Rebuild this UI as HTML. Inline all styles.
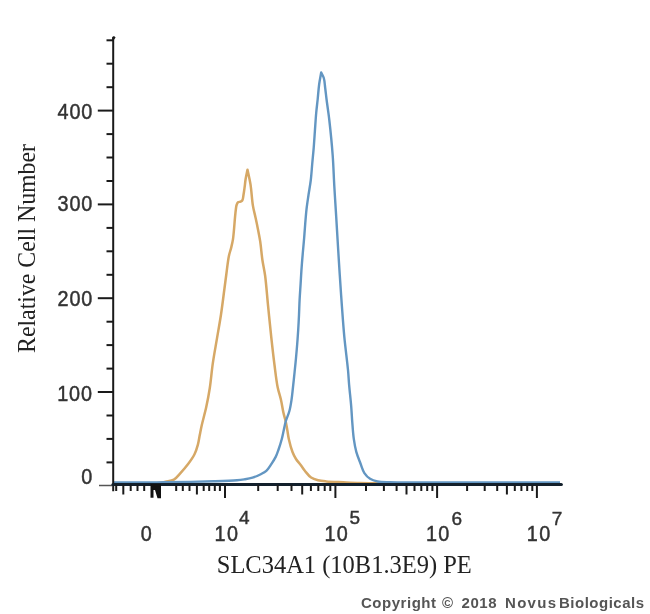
<!DOCTYPE html>
<html><head><meta charset="utf-8"><style>
html,body{margin:0;padding:0;background:#fff;}
svg{display:block;filter:blur(0.4px);}
.sans{font-family:"Liberation Sans",sans-serif;}
.serif{font-family:"Liberation Serif",serif;}
</style></head><body>
<svg width="650" height="614" viewBox="0 0 650 614">
<rect width="650" height="614" fill="#fff"/>
<path d="M114.00,483.20 C126.00,483.20 141.72,483.24 150.00,483.20 C154.37,483.18 157.18,483.44 160.00,483.10 C162.12,482.84 163.48,482.29 165.50,481.80 C168.01,481.19 171.50,481.05 173.90,479.70 C176.25,478.38 177.72,476.14 179.80,473.90 C182.39,471.11 185.61,467.45 188.10,464.10 C190.48,460.91 192.84,457.66 194.50,454.30 C196.05,451.15 197.01,447.87 197.90,444.60 C198.77,441.37 199.15,438.07 199.80,434.80 C200.45,431.53 200.95,428.76 201.80,425.00 C202.96,419.85 204.97,412.94 206.30,406.80 C207.64,400.60 208.77,394.70 209.80,388.00 C210.97,380.37 211.62,371.58 212.80,363.40 C213.98,355.21 215.53,347.06 216.90,338.90 C218.27,330.76 219.76,322.73 221.00,314.50 C222.26,306.10 223.43,296.31 224.40,289.00 C225.13,283.49 225.60,279.63 226.30,274.50 C227.09,268.71 227.88,260.94 228.90,256.00 C229.60,252.63 230.52,250.42 231.20,247.60 C231.88,244.78 232.46,242.64 233.00,239.10 C233.87,233.36 234.55,221.79 235.10,216.30 C235.41,213.19 235.61,211.07 235.90,209.00 C236.12,207.46 236.20,206.18 236.60,205.00 C236.94,203.98 237.31,202.86 238.00,202.30 C238.64,201.78 239.75,201.96 240.50,201.60 C241.21,201.25 241.93,200.93 242.40,200.20 C243.07,199.16 243.08,197.28 243.40,195.50 C243.82,193.17 244.23,190.10 244.60,187.40 C244.97,184.70 245.15,182.10 245.60,179.30 C246.09,176.25 246.87,172.97 247.50,169.80 C248.50,174.67 249.65,179.06 250.50,184.40 C251.52,190.79 251.91,199.64 252.90,205.60 C253.63,210.01 254.58,213.20 255.40,217.00 C256.22,220.80 257.02,224.47 257.80,228.40 C258.63,232.59 259.48,236.67 260.20,241.40 C261.05,247.03 261.54,254.09 262.40,260.00 C263.19,265.41 264.28,269.45 265.10,275.50 C266.25,283.96 267.08,295.91 268.10,306.10 C269.12,316.28 270.11,326.62 271.20,336.60 C272.25,346.24 273.36,356.14 274.50,365.00 C275.50,372.81 276.33,380.66 277.60,387.00 C278.59,391.93 280.01,395.65 281.00,400.00 C281.98,404.32 282.63,409.14 283.50,413.00 C284.21,416.15 285.07,418.66 285.70,421.50 C286.33,424.32 286.79,427.12 287.30,430.00 C287.82,432.95 288.07,435.75 288.80,439.00 C289.69,442.96 291.10,448.39 292.50,452.00 C293.57,454.75 294.62,456.82 296.00,459.00 C297.36,461.15 299.19,462.98 300.70,465.00 C302.19,466.98 303.37,469.01 305.00,471.00 C306.79,473.18 308.81,475.95 311.10,477.50 C313.19,478.91 315.56,479.55 318.00,480.20 C320.58,480.88 322.96,481.08 326.20,481.40 C330.87,481.86 337.72,482.03 343.40,482.30 C348.98,482.56 354.21,482.83 360.00,483.00 C366.36,483.18 373.33,483.20 380.00,483.30" fill="none" stroke="#d6a866" stroke-width="2.5" stroke-linejoin="round"/>
<path d="M114.00,482.50 C126.00,482.50 140.59,482.56 150.00,482.50 C156.08,482.46 158.57,482.41 165.00,482.30 C176.60,482.10 200.52,481.72 213.80,481.30 C222.96,481.01 231.47,480.76 237.00,480.30 C240.09,480.04 241.72,479.81 244.20,479.40 C246.88,478.96 249.77,478.54 252.50,477.70 C255.31,476.83 258.36,475.46 260.80,474.20 C262.87,473.13 264.62,472.34 266.30,470.80 C268.25,469.01 269.91,466.16 271.50,463.80 C273.03,461.53 274.54,459.25 275.70,456.90 C276.82,454.65 277.50,452.59 278.40,450.00 C279.53,446.78 280.87,442.50 281.80,439.00 C282.63,435.87 283.14,432.96 283.80,430.00 C284.44,427.13 284.85,424.46 285.70,421.50 C286.66,418.16 288.43,414.58 289.40,411.00 C290.37,407.41 290.92,403.76 291.50,400.00 C292.10,396.10 292.42,392.29 292.90,388.00 C293.45,383.05 294.07,377.16 294.60,372.00 C295.10,367.18 295.57,362.67 296.00,358.00 C296.43,353.33 296.83,348.67 297.20,344.00 C297.57,339.33 297.90,334.75 298.20,330.00 C298.51,325.09 298.77,320.00 299.00,315.00 C299.23,310.00 299.34,305.08 299.60,300.00 C299.87,294.75 300.27,289.35 300.60,284.00 C300.93,278.62 301.22,273.08 301.60,267.80 C301.96,262.75 302.38,257.91 302.80,253.00 C303.21,248.14 303.70,243.33 304.10,238.50 C304.50,233.67 304.80,228.85 305.20,224.00 C305.60,219.12 305.95,214.16 306.50,209.30 C307.05,204.49 307.79,199.82 308.50,195.00 C309.22,190.06 310.18,185.17 310.80,180.00 C311.46,174.52 311.80,168.51 312.30,163.00 C312.77,157.79 313.28,153.00 313.70,147.80 C314.15,142.34 314.49,136.70 314.90,131.00 C315.32,125.10 315.70,118.62 316.20,113.00 C316.65,108.04 317.21,103.75 317.70,99.00 C318.21,94.09 318.56,88.66 319.20,84.00 C319.76,79.90 320.53,76.33 321.20,72.50 C322.07,74.33 323.15,75.84 323.80,78.00 C324.63,80.79 324.76,84.58 325.20,88.00 C325.66,91.58 326.03,95.34 326.50,99.00 C326.97,102.67 327.52,106.42 328.00,110.00 C328.45,113.41 328.81,115.64 329.30,120.00 C330.23,128.20 331.86,144.11 332.70,155.50 C333.48,166.04 333.72,175.83 334.30,186.00 C334.88,196.19 335.56,206.18 336.20,216.60 C336.86,227.49 337.56,239.62 338.20,250.00 C338.76,259.07 339.22,266.61 339.80,275.50 C340.44,285.24 341.15,295.91 341.90,306.10 C342.65,316.28 343.32,326.21 344.30,336.60 C345.33,347.49 347.17,361.13 348.00,370.00 C348.54,375.85 348.64,379.26 349.10,384.60 C349.66,391.12 350.65,399.58 351.20,406.30 C351.68,412.12 351.87,417.17 352.30,422.60 C352.73,428.04 353.08,433.79 353.80,438.90 C354.45,443.50 355.16,447.75 356.30,451.90 C357.39,455.87 359.00,459.66 360.40,463.30 C361.71,466.70 362.62,470.42 364.40,473.10 C365.96,475.44 367.90,477.40 370.10,478.80 C372.27,480.19 374.66,480.90 377.50,481.50 C381.08,482.25 384.93,482.12 390.00,482.30 C397.84,482.58 406.33,482.45 420.00,482.50 C449.53,482.60 513.33,482.50 560.00,482.50" fill="none" stroke="#6396c2" stroke-width="2.4" stroke-linejoin="round"/>
<g stroke="#1a1a1a" stroke-width="2">
<line x1="113.2" y1="37.5" x2="113.2" y2="491.3"/>
<path d="M112.2,39.5 L112.2,37 L114,36 L115.6,37.4 L114.2,39.5 Z" fill="#1c1c1c" stroke="none"/>
<line x1="99" y1="485.5" x2="113" y2="485.5" stroke-width="1.5" stroke="#555"/>
<line x1="113" y1="484.5" x2="561.3" y2="484.5" stroke-width="3.2" stroke="#13202c" stroke-linecap="round"/>
<line x1="106.5" y1="462.4" x2="113" y2="462.4"/><line x1="106.5" y1="438.9" x2="113" y2="438.9"/><line x1="106.5" y1="415.5" x2="113" y2="415.5"/><line x1="97.8" y1="392.0" x2="113" y2="392.0"/><line x1="106.5" y1="368.6" x2="113" y2="368.6"/><line x1="106.5" y1="345.1" x2="113" y2="345.1"/><line x1="106.5" y1="321.7" x2="113" y2="321.7"/><line x1="97.8" y1="298.2" x2="113" y2="298.2"/><line x1="106.5" y1="274.8" x2="113" y2="274.8"/><line x1="106.5" y1="251.3" x2="113" y2="251.3"/><line x1="106.5" y1="227.9" x2="113" y2="227.9"/><line x1="97.8" y1="204.4" x2="113" y2="204.4"/><line x1="106.5" y1="181.0" x2="113" y2="181.0"/><line x1="106.5" y1="157.5" x2="113" y2="157.5"/><line x1="106.5" y1="134.1" x2="113" y2="134.1"/><line x1="97.8" y1="110.6" x2="113" y2="110.6"/><line x1="106.5" y1="87.2" x2="113" y2="87.2"/><line x1="106.5" y1="63.7" x2="113" y2="63.7"/><line x1="106.5" y1="40.3" x2="113" y2="40.3"/>
<line x1="116.2" y1="484.8" x2="116.2" y2="491"/><line x1="130.7" y1="484.8" x2="130.7" y2="491"/><line x1="137.5" y1="484.8" x2="137.5" y2="491"/><line x1="144.2" y1="484.8" x2="144.2" y2="491"/><line x1="123.3" y1="484.8" x2="123.3" y2="494.5"/><line x1="176.2" y1="484.8" x2="176.2" y2="491"/><line x1="182.8" y1="484.8" x2="182.8" y2="491"/><line x1="189.5" y1="484.8" x2="189.5" y2="491"/><line x1="203.7" y1="484.8" x2="203.7" y2="491"/><line x1="209.2" y1="484.8" x2="209.2" y2="491"/><line x1="214.8" y1="484.8" x2="214.8" y2="491"/><line x1="219.9" y1="484.8" x2="219.9" y2="491"/><line x1="196.9" y1="484.8" x2="196.9" y2="494.5"/><line x1="258.2" y1="484.8" x2="258.2" y2="491"/><line x1="277.7" y1="484.8" x2="277.7" y2="491"/><line x1="291.5" y1="484.8" x2="291.5" y2="491"/><line x1="302.2" y1="484.8" x2="302.2" y2="494.5"/><line x1="310.9" y1="484.8" x2="310.9" y2="491"/><line x1="318.3" y1="484.8" x2="318.3" y2="491"/><line x1="324.7" y1="484.8" x2="324.7" y2="491"/><line x1="330.3" y1="484.8" x2="330.3" y2="491"/><line x1="366.0" y1="484.8" x2="366.0" y2="491"/><line x1="383.9" y1="484.8" x2="383.9" y2="491"/><line x1="396.6" y1="484.8" x2="396.6" y2="491"/><line x1="406.5" y1="484.8" x2="406.5" y2="494.5"/><line x1="414.5" y1="484.8" x2="414.5" y2="491"/><line x1="421.3" y1="484.8" x2="421.3" y2="491"/><line x1="427.2" y1="484.8" x2="427.2" y2="491"/><line x1="432.4" y1="484.8" x2="432.4" y2="491"/><line x1="467.1" y1="484.8" x2="467.1" y2="491"/><line x1="484.7" y1="484.8" x2="484.7" y2="491"/><line x1="497.2" y1="484.8" x2="497.2" y2="491"/><line x1="506.9" y1="484.8" x2="506.9" y2="494.5"/><line x1="514.8" y1="484.8" x2="514.8" y2="491"/><line x1="521.4" y1="484.8" x2="521.4" y2="491"/><line x1="527.2" y1="484.8" x2="527.2" y2="491"/><line x1="532.3" y1="484.8" x2="532.3" y2="491"/><line x1="225.0" y1="484.8" x2="225.0" y2="498"/><line x1="335.4" y1="484.8" x2="335.4" y2="498"/><line x1="437.1" y1="484.8" x2="437.1" y2="498"/><line x1="536.9" y1="484.8" x2="536.9" y2="498"/>
</g>
<path d="M150.5,484 L161,484 L161,498.3 L157.5,498.3 L155,490 L153.5,490 L153.5,497.8 L150.5,497.8 Z" fill="#111"/>
<g class="sans" font-size="22.5" fill="#333" stroke="#333" stroke-width="0.5">
<text transform="translate(93.2,118.6) scale(0.88,1)" text-anchor="end" letter-spacing="1">400</text>
<text transform="translate(93.2,211.2) scale(0.88,1)" text-anchor="end" letter-spacing="1">300</text>
<text transform="translate(93.2,305.8) scale(0.88,1)" text-anchor="end" letter-spacing="1">200</text>
<text transform="translate(92.9,400.6) scale(0.88,1)" text-anchor="end" letter-spacing="1">100</text>
<text transform="translate(92.2,484) scale(0.88,1)" text-anchor="end">0</text>
<text transform="translate(140.8,540.7) scale(0.88,1)">0</text>
<text transform="translate(214.6,540.7) scale(0.88,1)" letter-spacing="1.6">10</text>
<text transform="translate(324.4,540.7) scale(0.88,1)" letter-spacing="1.6">10</text>
<text transform="translate(425.9,540.7) scale(0.88,1)" letter-spacing="1.6">10</text>
<text transform="translate(526.8,540.7) scale(0.88,1)" letter-spacing="1.6">10</text>
</g>
<g class="sans" font-size="19" fill="#333" stroke="#333" stroke-width="0.45">
<text transform="translate(239,524.2)">4</text>
<text transform="translate(349.6,524)">5</text>
<text transform="translate(451.4,524.5)">6</text>
<text transform="translate(551.8,524.5)">7</text>
</g>
<text class="serif" x="216.8" y="572.7" font-size="25" fill="#222" textLength="255" lengthAdjust="spacingAndGlyphs">SLC34A1 (10B1.3E9) PE</text>
<text class="serif" transform="translate(35,353) rotate(-90)" font-size="25" fill="#222" textLength="209" lengthAdjust="spacingAndGlyphs">Relative Cell Number</text>
<g class="sans" font-size="15" font-weight="bold" fill="#555">
<text x="361" y="608" textLength="75" lengthAdjust="spacing">Copyright</text>
<text x="442" y="608">©</text>
<text x="461.5" y="608" textLength="35" lengthAdjust="spacing">2018</text>
<text x="505" y="608" textLength="51" lengthAdjust="spacing">Novus</text>
<text x="559" y="608" textLength="85" lengthAdjust="spacing">Biologicals</text>
</g>
</svg>
</body></html>
